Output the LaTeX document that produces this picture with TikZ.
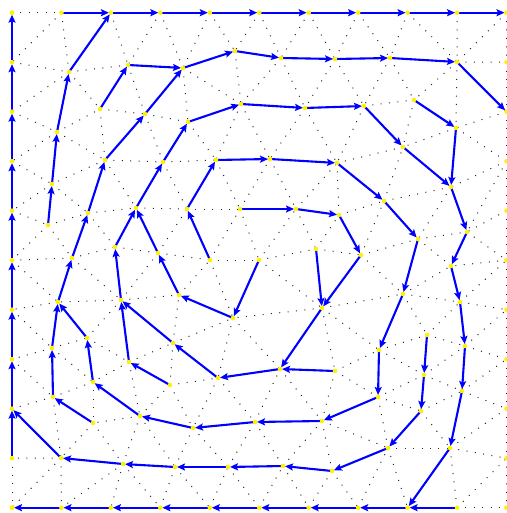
\documentclass[tikz,border=0pt]{standalone}
\usetikzlibrary{arrows.meta}
\begin{document}
\begin{tikzpicture}[x=1pt,y=-1pt,
  meshline/.style={black!85, line width=1pt, dash pattern=on 1pt off 7.4pt},
  arr/.style={draw=blue, line width=2.1pt, -{Stealth[length=8pt,width=7pt,inset=1.5pt]}, shorten >=2pt},
  vdot/.style={fill=yellow}]
\useasboundingbox (0,0) rectangle (506,513);
% boundary vertices
\foreach \i in {0,...,10}{
  \coordinate (t\i) at ({12+49.45*\i},12.7);
  \coordinate (b\i) at ({12+49.45*\i},507.7);
  \coordinate (l\i) at (12,{12.7+49.5*\i});
  \coordinate (r\i) at (506.5,{12.7+49.5*\i});
}
% interior vertices
\foreach \n/\x/\y in {1/69/72,2/128/65,3/100/109,4/145/114,5/57/132,6/105/160,7/163/162,8/183/68,
  9/235/51,10/281/58,11/335/59,12/390/58,13/457/62,14/188/122,15/241/104,16/305/108,17/364/106,
  18/414/100,19/456/128,20/403/147,21/216/160,22/270/159,23/337/163,24/451/187,25/384/201,
  26/52/184,27/48/225,28/88/213,29/136/208,30/187/209,31/240/209,32/296/209,33/339/215,
  34/418/239,35/467/232,36/72/258,37/115/247,38/158/253,39/210/260,40/259/260,41/316/249,
  42/361/255,43/451/266,44/58/302,45/121/300,46/179/295,47/233/318,48/322/308,49/403/294,
  50/460/302,51/427/335,52/87/338,53/52/348,54/129/362,55/173/343,56/218/378,57/280/369,
  58/335/371,59/379/350,60/465/346,61/53/397,62/93/382,63/170/385,64/140/416,65/93/423,
  66/193/428,67/255/422,68/322/421,69/378/397,70/424/375,71/421/411,72/462/391,73/61/458,
  74/123/464,75/175/467,76/228/467,77/283/466,78/332/471,79/388/448,80/450/448}
  \coordinate (v\n) at (\x,\y);
% mesh edges
\foreach \a/\b in {t0/t1,t1/l1,t0/l1,l1/v1,t1/v1,t1/t2,t2/v1,v1/v2,t2/v2,t2/t3,t3/v2,v2/v8,t3/v8,
  t3/t4,t4/v8,v8/v9,t4/v9,t4/t5,t5/v9,v9/v10,t5/v10,t5/t6,t6/v10,v10/v11,t6/v11,t6/t7,t7/v11,
  v11/v12,t7/v12,t7/t8,t8/v12,v12/v13,t8/v13,t8/t9,t9/v13,t9/t10,t10/v13,v13/r1,t10/r1,
  v1/l2,l1/l2,v1/v5,l2/v5,v5/v3,v1/v3,v2/v3,v3/v4,v2/v4,v4/v8,v4/v14,v8/v14,v14/v15,v8/v15,
  v9/v15,v10/v15,v15/v16,v10/v16,v11/v16,v16/v17,v11/v17,v12/v17,v17/v18,v12/v18,v13/v18,
  v18/v19,v13/v19,r1/r2,v13/r2,r2/v19,v5/l3,l2/l3,l3/v26,v5/v26,v3/v6,v5/v6,v6/v26,v4/v6,
  v6/v7,v4/v7,v14/v7,v7/v21,v14/v21,v15/v21,v21/v22,v15/v22,v16/v22,v22/v23,v16/v23,v17/v23,
  v17/v20,v20/v23,v18/v20,v19/v20,v20/v24,v19/v24,r2/r3,v19/r3,r3/v24,v26/l4,l3/l4,l4/v27,
  v26/v27,v26/v28,v28/v6,v27/v28,v28/v29,v6/v29,v29/v7,v29/v30,v7/v30,v30/v21,v30/v31,v21/v31,
  v31/v22,v31/v32,v22/v32,v32/v23,v32/v33,v23/v33,v33/v25,v23/v25,v25/v20,v24/v25,v25/v34,
  v24/v34,v34/v35,v24/v35,r3/v35,r3/r4,r4/v35,v27/l5,l4/l5,l5/v36,v27/v36,v28/v36,v36/v37,
  v28/v37,v29/v37,v37/v38,v29/v38,v38/v30,v38/v39,v30/v39,v39/v31,v39/v40,v31/v40,v40/v32,
  v40/v41,v32/v41,v41/v33,v41/v42,v33/v42,v42/v25,v42/v34,v42/v49,v34/v49,v49/v43,v34/v43,
  v43/v35,r4/r5,v35/r5,r5/v43,v36/v44,l5/v44,v44/l6,l5/l6,v37/v45,v36/v45,v45/v44,v38/v45,
  v45/v46,v38/v46,v46/v39,v46/v47,v39/v47,v47/v40,v40/v48,v48/v47,v41/v48,v42/v48,v48/v49,
  v43/v50,v49/v50,v50/r5,r5/r6,v50/r6,v44/v53,l6/v53,v53/l7,l6/l7,v53/v52,v44/v52,v52/v45,
  v52/v54,v45/v54,v54/v55,v45/v55,v55/v46,v55/v47,v55/v56,v47/v56,v56/v57,v47/v57,v57/v48,
  v57/v58,v48/v58,v58/v59,v48/v59,v59/v49,v59/v51,v49/v51,v51/v50,v51/v60,v50/v60,v60/r6,
  r6/r7,v60/r7,v53/v61,l7/v61,v61/l8,l7/l8,v52/v62,v53/v62,v62/v61,v54/v62,v62/v64,v54/v64,
  v64/v63,v54/v63,v63/v55,v63/v56,v63/v66,v56/v66,v64/v66,v66/v67,v56/v67,v67/v57,v67/v68,
  v57/v68,v68/v58,v68/v69,v58/v69,v69/v59,v51/v70,v59/v70,v70/v69,v70/v60,v70/v72,v60/v72,
  v72/r7,r7/r8,v72/r8,v69/v71,v70/v71,v71/v72,v61/v65,v62/v65,v64/v65,l8/v73,v61/v73,v65/v73,
  v73/v74,v65/v74,v74/v64,v74/v75,v64/v75,v75/v66,v75/v76,v66/v76,v76/v67,v76/v77,v67/v77,
  v77/v68,v77/v78,v68/v78,v78/v79,v68/v79,v79/v69,v79/v71,v79/v80,v71/v80,v80/v72,r8/v80,
  r8/r9,v80/r9,v73/l9,l8/l9,l9/b0,v73/b0,b0/b1,v73/b1,v74/b1,b1/b2,v74/b2,b2/b3,v74/b3,b3/v75,
  b3/b4,v75/b4,b4/v76,b4/b5,v76/b5,b5/v77,b5/b6,v77/b6,b6/v78,b6/b7,v78/b7,b7/v79,b7/b8,
  v79/b8,b8/v80,b8/b9,v80/b9,b9/r9,b9/b10,r9/b10}
  \draw[meshline] (\a) -- (\b);
% flow arrows
\foreach \a/\b in {l9/l8,l8/l7,l7/l6,l6/l5,l5/l4,l4/l3,l3/l2,l2/l1,l1/t0,
  t1/t2,t2/t3,t3/t4,t4/t5,t5/t6,t6/t7,t7/t8,t8/t9,t9/t10,
  b9/b8,b8/b7,b7/b6,b6/b5,b5/b4,b4/b3,b3/b2,b2/b1,b1/b0,
  v1/t2,v5/v1,v26/v5,v27/v26,v3/v2,v2/v8,v4/v8,v6/v4,v28/v6,v36/v28,v44/v36,v53/v44,v52/v44,
  v61/v53,v65/v61,v62/v52,v64/v62,v66/v64,v67/v66,v68/v67,v69/v68,v59/v69,v49/v59,v34/v49,
  v25/v34,v23/v25,v22/v23,v21/v22,v30/v21,v39/v30,v7/v14,v14/v15,v15/v16,v16/v17,v17/v20,
  v20/v24,v18/v19,v19/v24,v24/v35,v35/v43,v43/v50,v50/v60,v60/v72,v72/v80,v80/b8,
  v8/v9,v9/v10,v10/v11,v11/v12,v12/v13,v13/r2,v29/v7,v37/v29,v38/v29,v45/v37,v46/v38,
  v47/v46,v40/v47,v55/v45,v54/v45,v56/v55,v57/v56,v48/v57,v41/v48,v42/v48,v33/v42,v32/v33,
  v31/v32,v63/v54,v58/v57,v51/v70,v70/v71,v71/v79,v79/v78,v78/v77,v77/v76,v76/v75,v75/v74,
  v74/v73,v73/l8}
  \draw[arr] (\a) -- (\b);
% vertex dots
\foreach \i in {0,...,10}{
  \fill[vdot] (t\i) circle (2.3);
  \fill[vdot] (b\i) circle (2.3);
  \fill[vdot] (l\i) circle (2.3);
  \fill[vdot] (r\i) circle (2.3);
}
\foreach \n in {1,...,80} \fill[vdot] (v\n) circle (2.3);
\end{tikzpicture}
\end{document}
